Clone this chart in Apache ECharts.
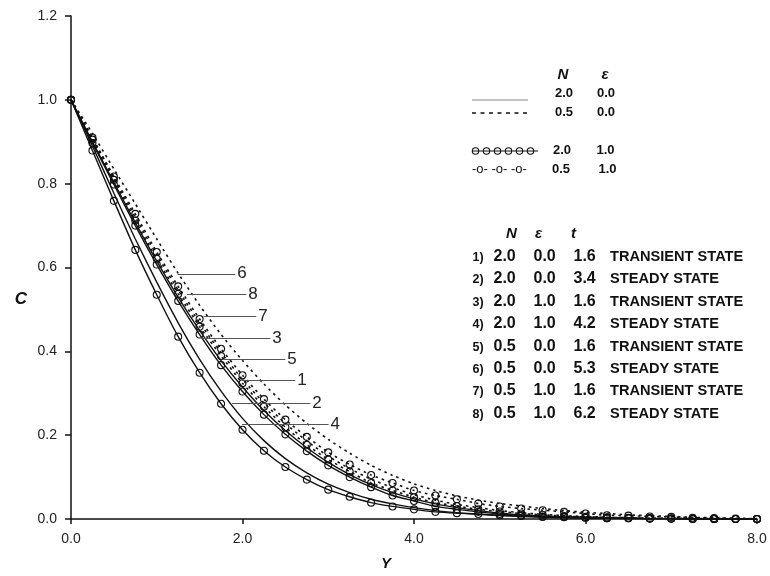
<!DOCTYPE html>
<html>
<head>
<meta charset="utf-8">
<script src="https://cdn.jsdelivr.net/npm/echarts@6/dist/echarts.min.js"></script>
<style>
  html, body { margin: 0; padding: 0; background: #fff; }
  #chart { width: 770px; height: 576px; }
</style>
</head>
<body>
<div id="chart"></div>
<script>
// distance Y (circles every 0.25)
const Y = [0, 0.25, 0.5, 0.75, 1, 1.25, 1.5, 1.75, 2, 2.25, 2.5, 2.75, 3, 3.25, 3.5, 3.75,
  4, 4.25, 4.5, 4.75, 5, 5.25, 5.5, 5.75, 6, 6.25, 6.5, 6.75, 7, 7.25, 7.5, 7.75, 8];

// concentration C for curves 1..8
const c1 = [1.0,0.900,0.803,0.707,0.615,0.529,0.450,0.378,0.315,0.259,0.211,0.170,0.135,0.106,0.082,0.063,0.048,0.036,0.027,0.020,0.014,0.010,0.007,0.005,0.004,0.003,0.002,0.001,0.001,0.001,0,0,0];
const c2 = [1.0,0.890,0.777,0.668,0.565,0.468,0.381,0.305,0.240,0.187,0.144,0.110,0.083,0.063,0.047,0.036,0.027,0.020,0.015,0.011,0.008,0.006,0.004,0.003,0.002,0.002,0.001,0.001,0.001,0,0,0,0];
const c3 = [1.0,0.897,0.798,0.700,0.607,0.520,0.440,0.367,0.304,0.249,0.202,0.162,0.128,0.100,0.076,0.056,0.043,0.030,0.023,0.017,0.012,0.009,0.006,0.005,0.003,0.002,0.002,0.001,0.001,0,0,0,0];
const c4 = [1.0,0.879,0.759,0.642,0.535,0.435,0.349,0.275,0.213,0.163,0.124,0.094,0.070,0.053,0.039,0.030,0.023,0.017,0.014,0.012,0.009,0.007,0.005,0.004,0.003,0.002,0.002,0.001,0.001,0,0,0,0];
const c5 = [1.0,0.907,0.814,0.720,0.630,0.546,0.468,0.397,0.333,0.277,0.228,0.186,0.150,0.120,0.095,0.075,0.058,0.045,0.035,0.027,0.020,0.015,0.011,0.008,0.006,0.004,0.003,0.002,0.002,0.001,0.001,0,0];
const c6 = [1.0,0.920,0.835,0.752,0.668,0.586,0.510,0.440,0.378,0.322,0.272,0.228,0.190,0.157,0.128,0.104,0.084,0.068,0.055,0.045,0.037,0.031,0.025,0.020,0.016,0.013,0.010,0.008,0.006,0.004,0.003,0.002,0.001];
const c7 = [1.0,0.905,0.809,0.712,0.621,0.537,0.459,0.389,0.324,0.268,0.219,0.177,0.142,0.113,0.086,0.068,0.052,0.039,0.031,0.023,0.018,0.013,0.010,0.007,0.005,0.004,0.003,0.002,0.001,0.001,0,0,0];
const c8 = [1.0,0.910,0.817,0.728,0.637,0.555,0.477,0.406,0.343,0.286,0.237,0.196,0.159,0.130,0.105,0.086,0.068,0.056,0.047,0.037,0.030,0.025,0.021,0.017,0.013,0.009,0.008,0.006,0.005,0.003,0.002,0.001,0];

// curve labels with leader lines
const leaderIds  = ['6', '8', '7', '3', '5', '1', '2', '4'];
const leaderC    = [0.585, 0.535, 0.484, 0.432, 0.380, 0.330, 0.276, 0.226];
const leaderFrom = [1.243, 1.353, 1.546, 1.528, 1.780, 1.994, 1.878, 1.994];
const leaderTo   = [1.916, 2.044, 2.161, 2.324, 2.499, 2.616, 2.791, 3.004];

// table
const rowNums  = ['1)', '2)', '3)', '4)', '5)', '6)', '7)', '8)'];
const tabN     = ['2.0', '2.0', '2.0', '2.0', '0.5', '0.5', '0.5', '0.5'];
const tabEps   = ['0.0', '0.0', '1.0', '1.0', '0.0', '0.0', '1.0', '1.0'];
const tabT     = ['1.6', '3.4', '1.6', '4.2', '1.6', '5.3', '1.6', '6.2'];
const tabState = ['TRANSIENT STATE', 'STEADY STATE', 'TRANSIENT STATE', 'STEADY STATE',
  'TRANSIENT STATE', 'STEADY STATE', 'TRANSIENT STATE', 'STEADY STATE'];

// style legend (N, eps per line style)
const legN   = ['2.0', '0.5', '2.0', '0.5'];
const legEps = ['0.0', '0.0', '1.0', '1.0'];

const FONT = '"Liberation Sans", Arial, Helvetica, sans-serif';
const DOT = [2.5, 4];

function pairs(c) { return Y.map((y, i) => [y, c[i]]); }

function curve(name, c, dashed, circles) {
  return {
    name: name,
    type: 'line',
    data: pairs(c),
    smooth: 0.2,
    showSymbol: circles,
    symbol: 'circle',
    symbolSize: 7,
    itemStyle: { color: 'rgba(0,0,0,0)', borderColor: '#111', borderWidth: 1.1 },
    lineStyle: { color: '#111', width: dashed ? 1.6 : 1.4, type: dashed ? DOT : 'solid' },
    emphasis: { disabled: true },
    z: circles ? 3 : 2
  };
}

const series = [
  curve('1', c1, false, false),
  curve('2', c2, false, false),
  curve('3', c3, false, true),
  curve('4', c4, false, true),
  curve('5', c5, true, false),
  curve('6', c6, true, false),
  curve('7', c7, true, true),
  curve('8', c8, true, true),
  {
    name: 'leaders',
    type: 'line',
    data: [],
    markLine: {
      silent: true,
      symbol: ['none', 'none'],
      animation: false,
      lineStyle: { color: '#555', width: 1.2, type: 'solid' },
      label: {
        show: true, position: 'end', distance: 2,
        color: '#222', fontSize: 17, fontFamily: FONT,
        padding: [0, 0, 14, 0],
        formatter: p => p.name
      },
      data: leaderIds.map((id, i) => [
        { name: id, coord: [leaderFrom[i], leaderC[i]] },
        { coord: [leaderTo[i], leaderC[i]] }
      ])
    }
  }
];

// graphic legend + table
const graphic = [];
function txt(s, x, y, font, align) {
  graphic.push({
    type: 'text', x: x, y: y, silent: true,
    style: { text: s, font: font, fill: '#111', textAlign: align || 'center', textVerticalAlign: 'middle' }
  });
}
const bold13 = 'bold 13px ' + FONT;
const bi15 = 'bold italic 15px ' + FONT;

// y axis title
txt('C', 21, 299, 'bold italic 17px ' + FONT);

txt('N', 563, 75, bi15);
txt('\u03B5', 605, 75, bi15);
const legY = [93.5, 112.5, 150.5, 169];
const legNX = [564, 564, 562, 561];
const legEX = [606, 606, 605.5, 607.5];
legY.forEach((y, i) => {
  txt(legN[i], legNX[i], y, bold13);
  txt(legEps[i], legEX[i], y, bold13);
});
graphic.push({ type: 'line', silent: true, shape: { x1: 472, y1: 100, x2: 528, y2: 100 },
  style: { stroke: '#888', lineWidth: 1 } });
graphic.push({ type: 'line', silent: true, shape: { x1: 472, y1: 113, x2: 530, y2: 113 },
  style: { stroke: '#111', lineWidth: 1.3, lineDash: [4, 4.5] } });
graphic.push({ type: 'line', silent: true, shape: { x1: 472, y1: 151, x2: 538, y2: 151 },
  style: { stroke: '#111', lineWidth: 1.1 } });
[475.5, 486.5, 497.5, 508.5, 519.5, 530.5].forEach(cx => {
  graphic.push({ type: 'circle', silent: true, shape: { cx: cx, cy: 151, r: 3.2 },
    style: { fill: 'none', stroke: '#111', lineWidth: 1.1 } });
});
txt('-o- -o- -o-', 472, 169.5, '13px ' + FONT, 'left');

txt('N', 511.5, 234, bi15);
txt('\u03B5', 538.5, 234, bi15);
txt('t', 573.5, 234, bi15);
rowNums.forEach((r, i) => {
  const y = 256.5 + i * 22.4;
  txt(r, 472.5, y + 1, 'bold 12.5px ' + FONT, 'left');
  txt(tabN[i], 493.5, y, 'bold 16px ' + FONT, 'left');
  txt(tabEps[i], 533.5, y, 'bold 16px ' + FONT, 'left');
  txt(tabT[i], 573.5, y, 'bold 16px ' + FONT, 'left');
  txt(tabState[i], 610, y + 0.5, 'bold 14.6px ' + FONT, 'left');
});

const chart = echarts.init(document.getElementById('chart'), null, { renderer: 'canvas' });
chart.setOption({
  animation: false,
  backgroundColor: '#fff',
  grid: { left: 71, right: 13, top: 16, bottom: 46, containLabel: false },
  xAxis: {
    type: 'value', min: 0, max: 8, interval: 2,
    name: 'Y', nameLocation: 'middle', nameGap: 37,
    nameTextStyle: { fontFamily: FONT, fontWeight: 'bold', fontStyle: 'italic', fontSize: 15, color: '#111',
      padding: [0, 56, 0, 0] },
    axisLine: { lineStyle: { color: '#111', width: 1.5 } },
    axisTick: { show: true, inside: false, length: 5, lineStyle: { color: '#111', width: 1.5 } },
    axisLabel: { fontFamily: FONT, fontSize: 14, color: '#222', margin: 13, formatter: v => v.toFixed(1) },
    splitLine: { show: false }
  },
  yAxis: {
    type: 'value', min: 0, max: 1.2, interval: 0.2,
    axisLine: { show: true, lineStyle: { color: '#111', width: 1.5 } },
    axisTick: { show: true, inside: false, length: 6, lineStyle: { color: '#111', width: 1.5 } },
    axisLabel: { fontFamily: FONT, fontSize: 14, color: '#222', margin: 14, formatter: v => v.toFixed(1) },
    splitLine: { show: false }
  },
  series: series,
  graphic: graphic
});
</script>
</body>
</html>
